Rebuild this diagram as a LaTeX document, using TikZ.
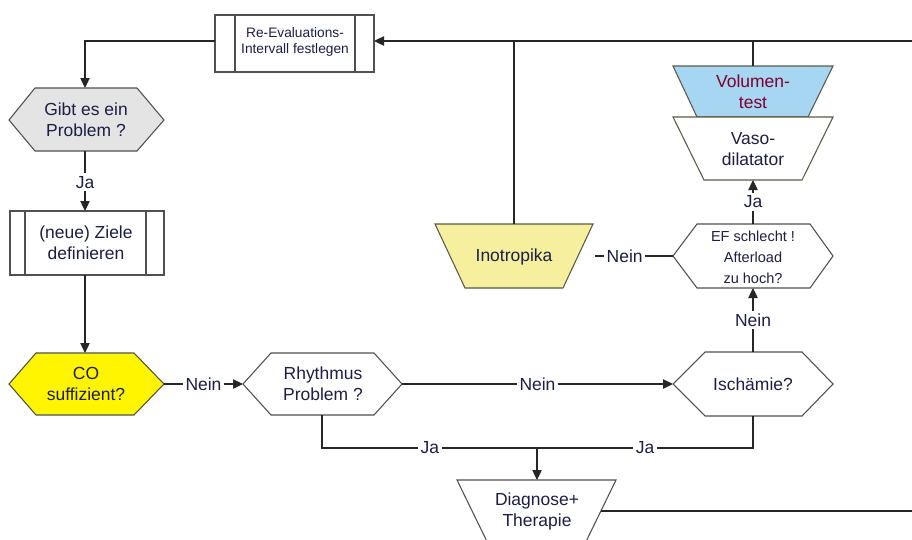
\documentclass[tikz,border=0pt]{standalone}
\usepackage{fontspec}
\setmainfont{Liberation Sans}
\usetikzlibrary{arrows.meta}
\definecolor{txt}{RGB}{28,30,70}
\definecolor{vol}{RGB}{125,0,45}
\definecolor{border}{RGB}{80,80,80}
\definecolor{tborder}{RGB}{90,90,70}
\definecolor{grayfill}{RGB}{228,228,228}
\definecolor{cofill}{RGB}{255,245,0}
\definecolor{inofill}{RGB}{246,240,158}
\definecolor{volfill}{RGB}{166,214,242}
\tikzset{
  shp/.style={draw=border,line width=0.8pt},
  tshp/.style={draw=tborder,line width=0.8pt},
  txtnode/.style={text=txt,align=center,font=\fontsize{13.1}{15.75}\selectfont,inner sep=0pt},
  smalltxt/.style={text=txt,align=center,font=\fontsize{10.3}{12}\selectfont,inner sep=0pt},
  eftxt/.style={text=txt,align=center,font=\fontsize{10.9}{15.75}\selectfont,inner sep=0pt},
  conn/.style={draw=black!85,line width=0.9pt},
  arr/.style={conn,-{Triangle[length=7.5pt,width=7pt]}},
  lbl/.style={fill=white,text=txt,font=\fontsize{13.1}{15.75}\selectfont,inner sep=2pt}
}
\begin{document}
\begin{tikzpicture}[x=0.75pt,y=-0.75pt]
\useasboundingbox (0,0) rectangle (912,539);
\clip (0,0) rectangle (912,539);
\fill[white] (0,0) rectangle (912,539);

% Re-Evaluations box
\draw[shp] (215,15) rectangle (374,72);
\draw[shp] (235,15) -- (235,72) (355,15) -- (355,72);
\node[smalltxt] (reeval) at (295,42) {Re-Evaluations-\\Intervall festlegen};
\coordinate (reevalE) at (374,41);
\coordinate (reevalW) at (215,41);

% Gibt es ein Problem
\draw[shp,fill=grayfill] (9,120) -- (35,88) -- (137,88) -- (164,120) -- (137,151) -- (35,151) -- cycle;
\node[txtnode] (gibt) at (86,120) {Gibt es ein\\Problem ?};
\coordinate (gibtN) at (85,88);
\coordinate (gibtS) at (85,151);
\coordinate (leftTop) at (85,41);

% (neue) Ziele definieren
\draw[shp] (10,211) rectangle (164,275);
\draw[shp] (25,211) -- (25,275) (146,211) -- (146,275);
\node[txtnode] (ziele) at (86,243) {(neue) Ziele\\definieren};
\coordinate (zieleN) at (85,211);
\coordinate (zieleS) at (85,275);

% CO suffizient
\draw[shp,fill=cofill] (9,384) -- (36,353) -- (134,353) -- (164,384) -- (134,415) -- (36,415) -- cycle;
\node[txtnode] (co) at (86,384) {CO\\suffizient?};
\coordinate (coN) at (85,353);
\coordinate (coE) at (164,384);

% Rhythmus Problem
\draw[shp,fill=white] (243,384) -- (271,353) -- (374,353) -- (402,384) -- (374,415) -- (271,415) -- cycle;
\node[txtnode] (rhy) at (323,384) {Rhythmus\\Problem ?};
\coordinate (rhyW) at (243,384);
\coordinate (rhyE) at (402,384);
\coordinate (rhyS) at (322,415);

% Ischaemie
\draw[shp,fill=white] (673,384) -- (705,352) -- (802,352) -- (833,384) -- (802,416) -- (705,416) -- cycle;
\node[txtnode] (isch) at (753,384) {Ischämie?};
\coordinate (ischW) at (673,384);
\coordinate (ischN) at (753,352);
\coordinate (ischS) at (753,416);

% EF schlecht
\draw[shp,fill=white] (673,256) -- (697,224) -- (810,224) -- (833,256) -- (810,288) -- (697,288) -- cycle;
\node[eftxt] (ef) at (753,257) {EF schlecht !\\Afterload\\zu hoch?};
\coordinate (efW) at (673,256);
\coordinate (efN) at (753,224);
\coordinate (efS) at (753,288);

% Inotropika
\draw[tshp,fill=inofill] (435,224) -- (593,224) -- (563,288) -- (465,288) -- cycle;
\node[txtnode] (ino) at (514,257) {Inotropika};
\coordinate (inoN) at (514,224);
\coordinate (inoE) at (595,256);
\coordinate (inoTop) at (514,41);

% Volumentest
\draw[tshp,fill=volfill] (673,66) -- (833,66) -- (808,117) -- (697,117) -- cycle;
\node[txtnode,text=vol] (volt) at (753,92) {Volumen-\\test};
\coordinate (voltN) at (753,66);
\coordinate (voltTop) at (753,41);

% Vasodilatator
\draw[tshp,fill=white] (673,117) -- (833,117) -- (802,180) -- (704,180) -- cycle;
\node[txtnode] (vaso) at (753,149) {Vaso-\\dilatator};
\coordinate (vasoS) at (753,180);

% Diagnose + Therapie
\draw[shp,fill=white] (457,480) -- (616,480) -- (577,560) -- (496,560) -- cycle;
\node[txtnode] (diag) at (537,511) {Diagnose+\\Therapie};
\coordinate (diagN) at (537,480);
\coordinate (diagE) at (601,511);
\coordinate (rightDiag) at (912,511);
\coordinate (rightTop) at (912,41);

% join points
\coordinate (jl) at (322,448);
\coordinate (jr) at (753,448);
\coordinate (jm) at (537,448);

% connectors
\draw[arr] (rightTop) -- (reevalE);
\draw[conn] (inoN) -- (inoTop);
\draw[conn] (voltN) -- (voltTop);
\draw[arr] (reevalW) -- (leftTop) -- (gibtN);
\draw[arr] (gibtS) -- node[lbl,pos=0.52] (ja1) {Ja} (zieleN);
\draw[arr] (zieleS) -- (coN);
\draw[arr] (coE) -- node[lbl,pos=0.5] (nein1) {Nein} (rhyW);
\draw[arr] (rhyE) -- node[lbl,pos=0.5] (nein2) {Nein} (ischW);
\draw[arr] (ischN) -- node[lbl,pos=0.5] (nein3) {Nein} (efS);
\draw[arr] (efN) -- node[lbl,pos=0.5] (ja2) {Ja} (vasoS);
\draw[conn] (efW) -- node[lbl,pos=0.62] (nein4) {Nein} (inoE);
\draw[conn] (rhyS) -- (jl) -- node[lbl,pos=0.25] (ja3) {Ja} (jr) -- (ischS);
\path (jm) -- (jr) node[lbl,pos=0.5] (ja4) {Ja};
\draw[arr] (jm) -- (diagN);
\draw[conn] (diagE) -- (rightDiag);
\end{tikzpicture}
\end{document}
